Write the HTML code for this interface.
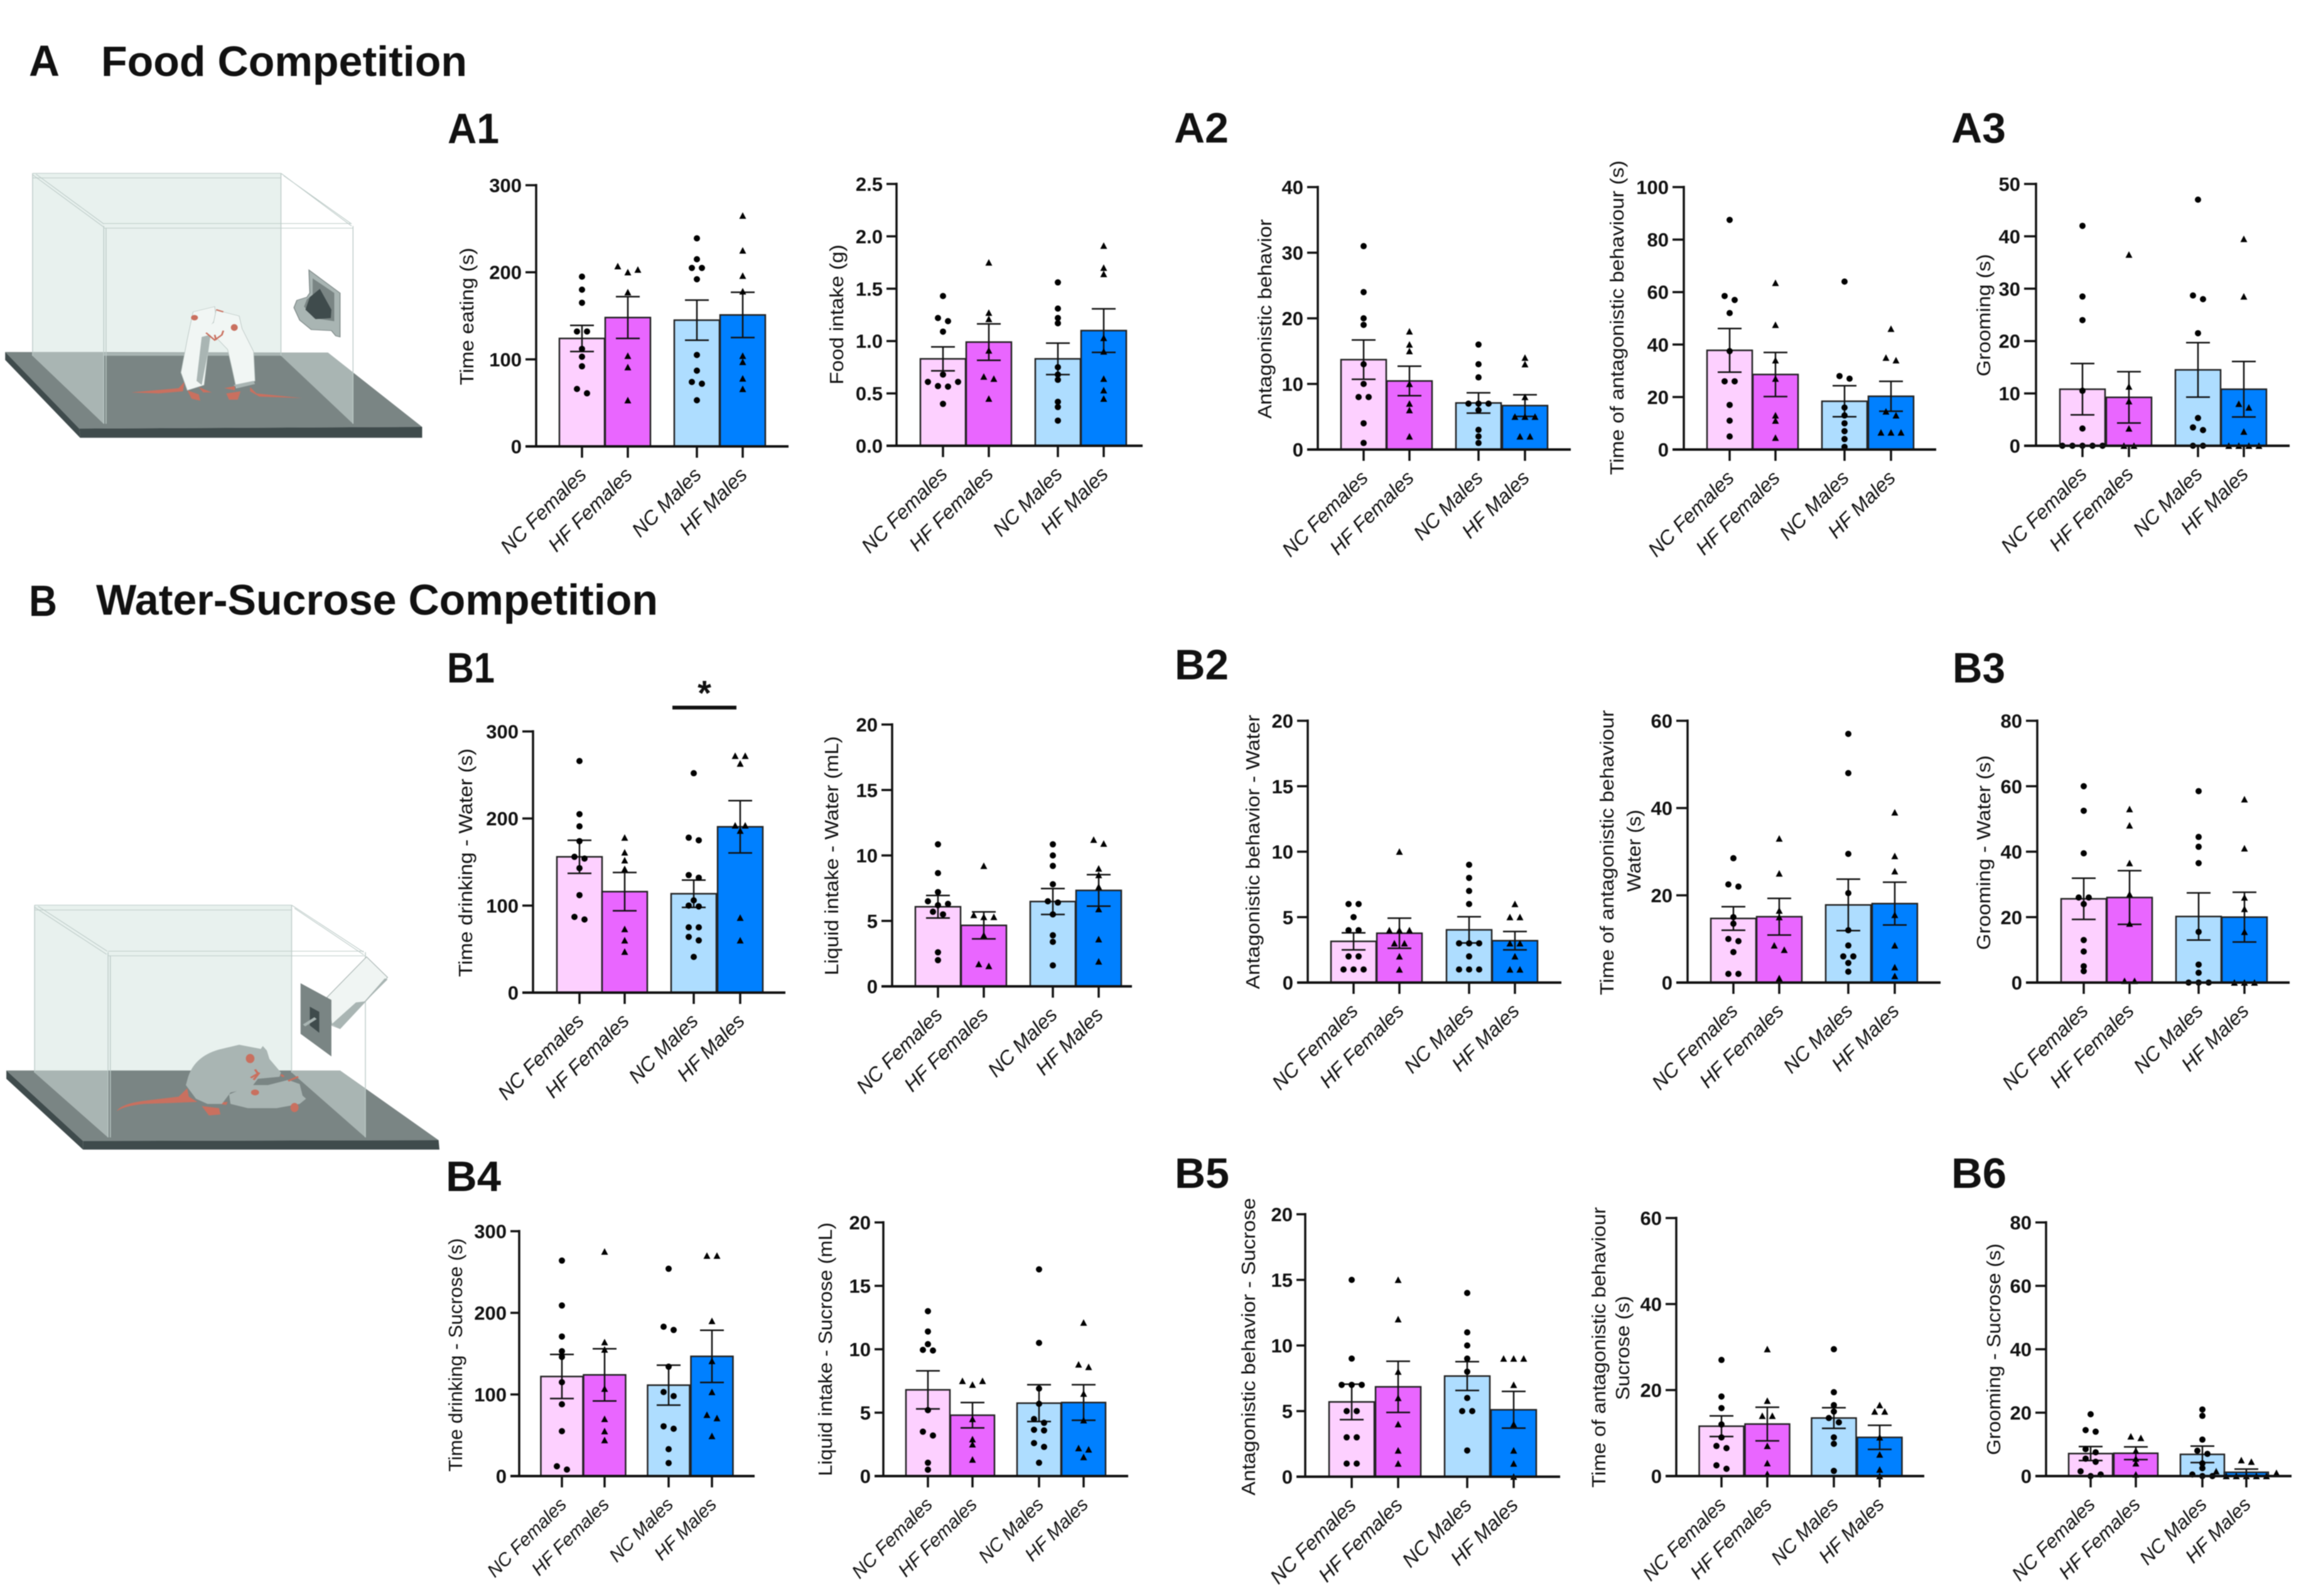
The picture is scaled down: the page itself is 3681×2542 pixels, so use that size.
<!DOCTYPE html>
<html lang="en">
<head>
<meta charset="utf-8">
<title>Food and Water-Sucrose Competition</title>
<style>
html,body{margin:0;padding:0;background:#fff;}
svg{display:block;filter:blur(0.7px);}
text{font-family:"Liberation Sans",sans-serif;fill:#111;}
.head{font-weight:bold;}
</style>
</head>
<body>
<svg id="root" xmlns="http://www.w3.org/2000/svg" width="3681" height="2542" viewBox="0 0 3681 2542">
<rect width="3681" height="2542" fill="#fff"/>

<text class="head" x="46" y="121" font-size="70" textLength="49" lengthAdjust="spacingAndGlyphs">A</text>
<text class="head" x="161" y="121" font-size="68" textLength="583" lengthAdjust="spacingAndGlyphs">Food Competition</text>
<text class="head" x="46" y="981" font-size="70" textLength="45" lengthAdjust="spacingAndGlyphs">B</text>
<text class="head" x="153" y="979" font-size="69" textLength="895" lengthAdjust="spacingAndGlyphs">Water-Sucrose Competition</text>

<text class="head" x="713" y="228" font-size="68" textLength="82" lengthAdjust="spacingAndGlyphs">A1</text>
<text class="head" x="1870" y="227" font-size="68" textLength="87" lengthAdjust="spacingAndGlyphs">A2</text>
<text class="head" x="3108" y="227" font-size="68" textLength="87" lengthAdjust="spacingAndGlyphs">A3</text>
<text class="head" x="712" y="1087" font-size="68" textLength="76" lengthAdjust="spacingAndGlyphs">B1</text>
<text class="head" x="1871" y="1082" font-size="68" textLength="86" lengthAdjust="spacingAndGlyphs">B2</text>
<text class="head" x="3110" y="1087" font-size="68" textLength="84" lengthAdjust="spacingAndGlyphs">B3</text>
<text class="head" x="710" y="1897" font-size="68" textLength="88" lengthAdjust="spacingAndGlyphs">B4</text>
<text class="head" x="1871" y="1892" font-size="68" textLength="87" lengthAdjust="spacingAndGlyphs">B5</text>
<text class="head" x="3108" y="1892" font-size="68" textLength="88" lengthAdjust="spacingAndGlyphs">B6</text>

<!-- Food chamber illustration -->
<g transform="matrix(.459 0 0 .3333 0 240)">
  <rect x="113" y="108" width="862" height="872" fill="#e8f1ee"/>
  <polygon points="18,962 1138,965 1465,1320 275,1328" fill="#7a8584"/>
  <polygon points="275,1328 1465,1320 1465,1372 278,1372" fill="#3f4b4c"/>
  <polygon points="18,962 275,1328 278,1372 18,1000" fill="#3f4b4c"/>
  <polygon points="113,965 975,965 975,980 113,980" fill="#a9b5b3"/>
  <polygon points="113,108 360,360 360,1305 113,980" fill="#e8f1ee"/>
  <polygon points="113,962 360,962 360,1305 113,980" fill="#a9b5b3"/>
  <polygon points="975,965 1138,965 1225,1060 1225,1305 975,980" fill="#a9b5b3"/>
  <g fill="none" stroke="#bccac7" stroke-width="3">
    <path d="M113,108H975M113,130H975M360,348H1220M360,370H1225"/>
    <path d="M113,108V980M975,108V980M360,360V1305M1225,360V1305M368,370V1305"/>
    <path d="M113,115L360,365M125,112L360,350M975,108L1220,360M985,120L1220,350"/>
  </g>
  <path d="M1072,570L1180,680V890L1165,885L1150,860L1080,855L1040,810L1020,750L1030,715L1065,700L1075,680Z" fill="#a9b5b3" stroke="#7a8584" stroke-width="3"/>
  <path d="M1085,610L1160,680V815L1090,800L1055,745L1065,710L1085,690Z" fill="#7a8584"/>
  <path d="M1110,660L1150,760L1148,800L1095,805L1060,760L1075,700Z" fill="#3f4b4c"/>
  <path d="M455,1155L620,1135L640,1105L635,1150L550,1160Z" fill="#c9705f"/>
  <path d="M868,1130L890,1160L1048,1182L900,1175L868,1150Z" fill="#c9705f"/>
  <path d="M650,1145L690,1165L695,1195L665,1185Z M690,1130L735,1155L705,1155Z M778,1135L815,1125L815,1145Z M785,1160L835,1150L825,1190L795,1190Z" fill="#c9705f"/>
  <path d="M670,770L745,745L750,800L735,830L730,880L722,960L708,1120L650,1145L628,1060L650,900Z" fill="#f1f6f4" stroke="#b8c4c1" stroke-width="2"/>
  <path d="M700,890L730,880L722,960L700,1120L682,1100Z" fill="#a9b5b3"/>
  <path d="M750,762L830,790L840,850L880,960L885,1100L820,1135L805,1040L790,950L755,900L735,860Z" fill="#f1f6f4" stroke="#b8c4c1" stroke-width="2"/>
  <ellipse cx="750" cy="860" rx="24" ry="40" fill="#f1f6f4"/>
  <path d="M810,1120L880,1100L885,1115L825,1135Z" fill="#a9b5b3"/>
  <ellipse cx="675" cy="798" rx="12" ry="13" fill="#c9705f"/>
  <ellipse cx="813" cy="845" rx="12" ry="16" fill="#c9705f"/>
  <path d="M715,870L745,905L770,880L775,860M750,760L775,770M745,880L750,905" fill="none" stroke="#c9705f" stroke-width="6"/>
</g>

<!-- Water-sucrose chamber illustration -->
<g transform="matrix(.459 0 0 .3333 0 1400)">
  <rect x="120" y="125" width="892" height="805" fill="#e8f1ee"/>
  <polygon points="22,915 1180,915 1522,1248 288,1252" fill="#7a8584"/>
  <polygon points="288,1252 1522,1248 1525,1293 288,1293" fill="#3f4b4c"/>
  <polygon points="22,915 288,1252 288,1293 22,955" fill="#3f4b4c"/>
  <polygon points="120,125 375,350 375,1235 120,925" fill="#e8f1ee"/>
  <polygon points="120,915 375,915 375,1235 120,925" fill="#a9b5b3"/>
  <polygon points="1012,915 1180,915 1268,1002 1268,1235 1012,925" fill="#a9b5b3"/>
  <g fill="none" stroke="#bccac7" stroke-width="3">
    <path d="M120,125H1012M120,148H1012M375,345H1262M375,367H1268"/>
    <path d="M120,125V925M1012,125V925M375,350V1235M1268,350V1235M383,367V1235"/>
    <path d="M120,135L370,360M132,130L372,345M1012,125L1262,350M1022,140L1262,362"/>
  </g>
  <polygon points="1135,565 1272,372 1345,470 1265,590 1180,715 1152,700" fill="#f0f5f3" stroke="#a9b5b3" stroke-width="3"/>
  <polygon points="1150,695 1235,590 1265,585 1335,475 1345,480 1265,590 1180,715" fill="#a9b5b3"/>
  <polygon points="1043,498 1150,578 1150,848 1043,740" fill="#7a8584"/>
  <polygon points="1075,610 1108,635 1108,735 1075,700" fill="#3f4b4c"/>
  <path d="M1055,700L1095,665" stroke="#a9b5b3" stroke-width="12"/>
  <path d="M405,1110Q420,1075 500,1060L620,1040L650,1000L655,1040L685,1065L600,1070L500,1075Q430,1085 405,1110Z" fill="#c9705f"/>
  <path d="M700,1085L760,1095L765,1125L725,1130Z M745,1070L790,1065L785,1080Z" fill="#c9705f"/>
  <path d="M650,960Q670,850 760,815L830,792L905,812L912,798L926,820L935,860L975,925L970,945L895,955L870,1000L800,1020L770,1075L720,1075L680,1050L645,985Z" fill="#a9b5b3"/>
  <path d="M795,1030L870,985L930,985L1000,960L1040,980L1050,1035L1062,1050L1040,1075L960,1095L860,1095L800,1075Z" fill="#a9b5b3"/>
  <ellipse cx="868" cy="858" rx="15" ry="22" fill="#c9705f"/>
  <ellipse cx="1022" cy="1092" rx="14" ry="22" fill="#c9705f"/>
  <circle cx="885" cy="1020" r="14" fill="#c9705f"/>
  <path d="M870,950L895,930L885,910M880,960L900,925" stroke="#c9705f" stroke-width="8" fill="none"/>
  <path d="M1000,965L1035,945M975,935L985,945" stroke="#c9705f" stroke-width="8" fill="none"/>
</g>

<rect x="1071" y="1124" width="102" height="6" fill="#111"/>
<text x="1122" y="1123" font-size="56" font-weight="bold" text-anchor="middle">*</text>

<g id="charts"></g>
</svg>

<script>
const categories = ["NC Females", "HF Females", "NC Males", "HF Males"];

const a1aTicks = [0, 100, 200, 300];
const a1aMeans = [124, 148, 145, 151];
const a1aSems = [15, 24, 23, 26];
const a1aPoints = [
  [195, 180, 165, 132, 132, 112, 103, 92, 66, 61],
  [207, 203, 200, 177, 104, 91, 53],
  [239, 215, 205, 205, 192, 105, 87, 74, 72, 53],
  [265, 225, 196, 178, 104, 97, 78, 66]
];

const a1bTicks = [0, 0.5, 1, 1.5, 2, 2.5];
const a1bMeans = [0.83, 0.99, 0.83, 1.10];
const a1bSems = [0.114, 0.174, 0.15, 0.208];
const a1bPoints = [
  [1.43, 1.22, 1.19, 1.09, 0.68, 0.61, 0.61, 0.57, 0.565, 0.40],
  [1.75, 1.27, 1.21, 0.91, 0.66, 0.64, 0.45],
  [1.56, 1.31, 1.22, 1.17, 0.75, 0.68, 0.63, 0.42, 0.37, 0.24],
  [1.91, 1.70, 1.64, 1.03, 0.90, 0.64, 0.53, 0.45]
];

const a2aTicks = [0, 10, 20, 30, 40];
const a2aMeans = [13.7, 10.45, 7.1, 6.7];
const a2aSems = [3, 2.25, 1.55, 1.65];
const a2aPoints = [
  [31, 24, 20, 19, 13, 10, 8, 8, 4, 1],
  [18, 16, 15, 10, 7, 6, 2],
  [16, 13, 11, 7, 7, 7, 6, 3, 2, 1],
  [14, 13, 8, 5, 5, 5, 2, 2]
];

const a2bTicks = [0, 20, 40, 60, 80, 100];
const a2bMeans = [37.8, 28.6, 18.4, 20.3];
const a2bSems = [8.3, 8.4, 5.9, 5.7];
const a2bPoints = [
  [87.5, 58.5, 57, 52, 37.5, 26, 26, 17, 11, 5],
  [63.5, 47.5, 34, 27, 13, 11, 4.5],
  [64, 28, 27, 16, 13, 10, 7, 4, 1],
  [46, 35, 34, 14.5, 13, 6.5, 6.5, 6.5]
];

const a3Ticks = [0, 10, 20, 30, 40, 50];
const a3Means = [10.8, 9.25, 14.5, 10.8];
const a3Sems = [4.9, 4.9, 5.2, 5.3];
const a3Points = [
  [42, 28.5, 24, 10.5, 3.3, 0, 0, 0, 0, 0],
  [36.5, 11.3, 8.5, 3.3, 0, 0],
  [47, 28.7, 28, 21.5, 5.3, 3.5, 3, 0, 0],
  [39.5, 28.5, 8, 7.3, 2.7, 0, 0, 0, 0]
];

const b1aTicks = [0, 100, 200, 300];
const b1aMeans = [156, 116, 113.6, 190.5];
const b1aSems = [19, 22, 15.7, 30];
const b1aPoints = [
  [266, 205, 191, 174, 156, 154, 143, 112, 87, 84],
  [178, 161, 152, 142, 73, 60, 47],
  [252, 178, 175, 135, 132, 106, 100, 99, 75, 75, 64, 60, 41],
  [272, 272, 263, 192, 192, 186, 86, 60]
];

const b1bTicks = [0, 5, 10, 15, 20];
const b1bMeans = [6.08, 4.66, 6.48, 7.33];
const b1bSems = [0.86, 1.03, 0.99, 1.2];
const b1bPoints = [
  [10.85, 8.65, 7.2, 6.5, 6.3, 6.2, 5.7, 5.5, 2.6, 2.0],
  [9.2, 5.45, 5.3, 5.3, 3.9, 1.7, 1.55],
  [10.85, 10, 9.2, 7.8, 6.5, 6.4, 5.5, 3.9, 3.4, 1.6],
  [11.2, 10.9, 9, 8.5, 7.6, 5.9, 3.6, 1.9]
];

const b2aTicks = [0, 5, 10, 15, 20];
const b2aMeans = [3.15, 3.77, 4.03, 3.2];
const b2aSems = [0.65, 1.15, 1, 0.7];
const b2aPoints = [
  [6, 6, 5, 4, 4, 2, 2, 1, 1, 1],
  [10, 4, 4, 4, 3, 3, 2, 1],
  [9, 8, 7, 6, 3, 3, 3, 2, 1, 1, 1],
  [6, 5, 5, 3, 3, 2, 1, 1]
];

const b2bTicks = [0, 20, 40, 60];
const b2bMeans = [14.7, 15.1, 17.8, 18.1];
const b2bSems = [2.7, 4.2, 5.9, 4.9];
const b2bPoints = [
  [28.5, 22.5, 22, 15, 13.5, 10, 9.5, 7, 2, 2],
  [33, 25, 16.5, 15, 8.5, 7.5, 1],
  [57, 48, 29.5, 20.5, 12, 8.5, 6, 6, 4.5, 2.5],
  [39, 29, 25.5, 15.5, 8.5, 3.5, 1.5]
];

const b3Ticks = [0, 20, 40, 60, 80];
const b3Means = [25.6, 26, 20.2, 20];
const b3Sems = [6.3, 8.2, 7.2, 7.6];
const b3Points = [
  [60, 52.5, 39.5, 26, 26, 24, 13, 9.5, 5, 3.5],
  [53, 48, 36.5, 27, 18, 0.5, 0.5],
  [58.5, 44.5, 41.5, 36.5, 15.5, 5.5, 3, 0, 0, 0],
  [56, 41, 26, 22.5, 15.5, 0, 0, 0]
];

const b4aTicks = [0, 100, 200, 300];
const b4aMeans = [122, 124, 111.4, 146.7];
const b4aSems = [27, 32, 24.5, 32];
const b4aPoints = [
  [264, 209, 171, 153, 146, 115, 88, 55, 12, 8],
  [275, 164, 155, 107, 70, 55, 44],
  [254, 183, 179, 134, 103, 98, 61, 58, 33, 16],
  [270, 270, 190, 141, 103, 75, 71, 49]
];

const b4bTicks = [0, 5, 10, 15, 20];
const b4bMeans = [6.8, 4.8, 5.75, 5.8];
const b4bSems = [1.5, 1, 1.45, 1.4];
const b4bPoints = [
  [13, 11.4, 10.4, 9.95, 9.9, 5.2, 3.5, 3.2, 1.05, 0.5],
  [7.5, 7.5, 7.2, 4.5, 2.9, 2.5, 1.3],
  [16.3, 10.5, 6.9, 5.7, 4.5, 4.2, 3.65, 3.6, 2.6, 2.3, 1.05],
  [12.1, 8.8, 8.6, 6.5, 4.4, 2.2, 2.1, 1.5]
];

const b5aTicks = [0, 5, 10, 15, 20];
const b5aMeans = [5.7, 6.85, 7.67, 5.1];
const b5aSems = [1.35, 1.95, 1.1, 1.4];
const b5aPoints = [
  [15, 9, 7, 7, 7, 5, 5, 3, 3, 1, 1],
  [15, 12, 8, 6, 4, 2, 1],
  [14, 11, 10, 9, 8, 6, 5, 5, 2],
  [9, 9, 9, 7, 4, 2, 1, 0]
];

const b5bTicks = [0, 20, 40, 60];
const b5bMeans = [11.6, 12.1, 13.5, 9];
const b5bSems = [2.4, 3.9, 2.4, 2.8];
const b5bPoints = [
  [27, 18.5, 15.8, 12, 9, 7, 6.5, 2.5, 1.7],
  [29.5, 17.5, 14, 14, 7, 3, 0.5],
  [29.5, 19.5, 16.5, 15, 13.5, 12.5, 9, 7.5, 1.2],
  [16.5, 15, 15, 9, 5, 1.5, 0]
];

const b6Ticks = [0, 20, 40, 60, 80];
const b6Means = [7.1, 7.2, 6.85, 1.2];
const b6Sems = [2.2, 2, 2.6, 1];
const b6Points = [
  [19.5, 14.5, 14, 8.5, 7.5, 5.5, 4.5, 1.5, 0.5, 0],
  [12.5, 12, 8, 5.5, 4, 0.5],
  [21, 19, 11.5, 8, 7, 4, 2.5, 0.5, 0, 0],
  [5, 4.5, 1.5, 1, 0, 0, 0, 0, 0]
];

const barColors = ["#fdd0ff", "#e966ff", "#aeddff", "#0080ff"];

const charts = [
  {id:"a1a", means:a1aMeans, sems:a1aSems, pts:a1aPoints, ticks:a1aTicks, frame:{ax:854, y0:711, top:295, l:837, r:1256, cx:[927,1000,1110,1183], bw:72},
   titles:[{t:"Time eating (s)", x:754, cy:504, len:219}]},
  {id:"a1b", decimals:1, means:a1bMeans, sems:a1bSems, pts:a1bPoints, ticks:a1bTicks, frame:{ax:1428, y0:710, top:293, l:1412, r:1820, cx:[1502,1575,1685,1758], bw:72},
   titles:[{t:"Food intake (g)", x:1343, cy:501, len:223}]},
  {id:"a2a", means:a2aMeans, sems:a2aSems, pts:a2aPoints, ticks:a2aTicks, frame:{ax:2099, y0:716, top:298, l:2082, r:2502, cx:[2172,2245,2355,2429], bw:72},
   titles:[{t:"Antagonistic behavior", x:2025, cy:508, len:318}]},
  {id:"a2b", means:a2bMeans, sems:a2bSems, pts:a2bPoints, ticks:a2bTicks, frame:{ax:2682, y0:716, top:298, l:2664, r:3084, cx:[2755,2828,2938,3012], bw:72},
   titles:[{t:"Time of antagonistic behaviour (s)", x:2586, cy:506, len:501}]},
  {id:"a3", means:a3Means, sems:a3Sems, pts:a3Points, ticks:a3Ticks, frame:{ax:3243, y0:710, top:293, l:3224, r:3647, cx:[3317,3391,3501,3574], bw:72},
   titles:[{t:"Grooming (s)", x:3170, cy:502, len:195}]},
  {id:"b1a", means:b1aMeans, sems:b1aSems, pts:b1aPoints, ticks:b1aTicks, frame:{ax:849, y0:1581, top:1165, l:832, r:1251, cx:[923,995,1105,1179], bw:72},
   titles:[{t:"Time drinking - Water (s)", x:752, cy:1374, len:364}]},
  {id:"b1b", means:b1bMeans, sems:b1bSems, pts:b1bPoints, ticks:b1bTicks, frame:{ax:1421, y0:1571, top:1154, l:1404, r:1803, cx:[1494,1567,1677,1750], bw:72},
   titles:[{t:"Liquid intake - Water (mL)", x:1335, cy:1363, len:381}]},
  {id:"b2a", means:b2aMeans, sems:b2aSems, pts:b2aPoints, ticks:b2aTicks, frame:{ax:2083, y0:1565, top:1148, l:2066, r:2487, cx:[2156,2229,2340,2413], bw:72},
   titles:[{t:"Antagonistic behavior - Water", x:2006, cy:1357, len:437}]},
  {id:"b2b", means:b2bMeans, sems:b2bSems, pts:b2bPoints, ticks:b2bTicks, frame:{ax:2688, y0:1565, top:1148, l:2670, r:3091, cx:[2761,2834,2944,3018], bw:72},
   titles:[{t:"Time of antagonistic behaviour", x:2570, cy:1358, len:454},{t:"Water (s)", x:2613, cy:1355, len:131}]},
  {id:"b3", means:b3Means, sems:b3Sems, pts:b3Points, ticks:b3Ticks, frame:{ax:3245, y0:1565, top:1148, l:3227, r:3647, cx:[3319,3392,3502,3575], bw:72},
   titles:[{t:"Grooming - Water (s)", x:3170, cy:1358, len:310}]},
  {id:"b4a", labelSize:29.5, means:b4aMeans, sems:b4aSems, pts:b4aPoints, ticks:b4aTicks, frame:{ax:827, y0:2351, top:1961, l:813, r:1202, cx:[895,963,1065,1134], bw:67},
   titles:[{t:"Time drinking - Sucrose (s)", x:736, cy:2158, len:372}]},
  {id:"b4b", labelSize:30, means:b4bMeans, sems:b4bSems, pts:b4bPoints, ticks:b4bTicks, frame:{ax:1407, y0:2351, top:1947, l:1393, r:1797, cx:[1478,1549,1655,1726], bw:70},
   titles:[{t:"Liquid intake - Sucrose (mL)", x:1325, cy:2149, len:404}]},
  {id:"b5a", means:b5aMeans, sems:b5aSems, pts:b5aPoints, ticks:b5aTicks, frame:{ax:2079, y0:2352, top:1934, l:2065, r:2485, cx:[2153,2227,2337,2411], bw:72},
   titles:[{t:"Antagonistic behavior - Sucrose", x:1999, cy:2145, len:474}]},
  {id:"b5b", labelSize:31, means:b5bMeans, sems:b5bSems, pts:b5bPoints, ticks:b5bTicks, frame:{ax:2670, y0:2351, top:1940, l:2653, r:3065, cx:[2742,2815,2921,2994], bw:71},
   titles:[{t:"Time of antagonistic behaviour", x:2557, cy:2146, len:447},{t:"Sucrose (s)", x:2595, cy:2147, len:166}]},
  {id:"b6", labelSize:31, means:b6Means, sems:b6Sems, pts:b6Points, ticks:b6Ticks, frame:{ax:3259, y0:2351, top:1947, l:3242, r:3650, cx:[3330,3402,3508,3578], bw:70},
   titles:[{t:"Grooming - Sucrose (s)", x:3186, cy:2149, len:337}]}
];

const NS = "http://www.w3.org/2000/svg";
const host = document.getElementById("charts");
const DOT_STEP = 16;
const CLUSTER_GAP = 7;

function mk(tag, parent) {
  const el = document.createElementNS(NS, tag);
  parent.appendChild(el);
  return el;
}

function line(parent, x1, y1, x2, y2, w, color) {
  const el = mk("line", parent);
  el.setAttribute("x1", x1);
  el.setAttribute("y1", y1);
  el.setAttribute("x2", x2);
  el.setAttribute("y2", y2);
  el.setAttribute("stroke", color || "#111");
  el.setAttribute("stroke-width", w);
  return el;
}

// Beeswarm-like placement: neighbours close in pixel-y are spread symmetrically.
function swarm(values, yScale) {
  const sorted = values.slice().sort((a, b) => b - a);
  const out = [];
  let cluster = [];
  const flush = () => {
    const n = cluster.length;
    const offsets = [];
    for (let i = 0; i < n; i++) offsets.push((i - (n - 1) / 2) * DOT_STEP);
    offsets.sort((a, b) => Math.abs(b) - Math.abs(a));
    cluster.forEach((v, i) => out.push({v: v, dx: offsets[i]}));
    cluster = [];
  };
  sorted.forEach(v => {
    if (cluster.length && yScale(v) - yScale(cluster[cluster.length - 1]) >= CLUSTER_GAP) flush();
    cluster.push(v);
  });
  flush();
  return out;
}

function drawChart(c) {
  const f = c.frame;
  const yMax = c.ticks[c.ticks.length - 1];
  const yScale = v => f.y0 - (v / yMax) * (f.y0 - f.top);
  const g = mk("g", host);
  
  

  c.means.forEach((m, i) => {
    const bar = mk("rect", g);
    
    
    bar.setAttribute("x", f.cx[i] - f.bw / 2);
    bar.setAttribute("y", yScale(m));
    bar.setAttribute("width", f.bw);
    bar.setAttribute("height", f.y0 - yScale(m));
    bar.setAttribute("fill", barColors[i]);
    bar.setAttribute("stroke", "#222");
    bar.setAttribute("stroke-width", "2.5");
  });

  c.means.forEach((m, i) => {
    const eb = mk("g", g);
    
    
    const hi = yScale(m + c.sems[i]);
    const lo = yScale(m - c.sems[i]);
    line(eb, f.cx[i], hi, f.cx[i], lo, 2.5);
    line(eb, f.cx[i] - 19, hi, f.cx[i] + 19, hi, 2.5);
    line(eb, f.cx[i] - 19, lo, f.cx[i] + 19, lo, 2.5);
  });

  c.pts.forEach((vals, i) => {
    const triangle = i % 2 === 1;
    swarm(vals, yScale).forEach(p => {
      const x = f.cx[i] + p.dx;
      const y = yScale(p.v);
      let mark;
      if (triangle) {
        mark = mk("polygon", g);
        mark.setAttribute("points", (x - 5.5) + "," + (y + 5) + " " + (x + 5.5) + "," + (y + 5) + " " + x + "," + (y - 5.5));
      } else {
        mark = mk("circle", g);
        mark.setAttribute("cx", x);
        mark.setAttribute("cy", y);
        mark.setAttribute("r", 5);
      }
      mark.setAttribute("fill", "#000");
      
      
    });
  });

  const yAxis = line(g, f.ax, f.top - 2, f.ax, f.y0 + 2, 3.5);
  
  
  const xAxis = line(g, f.l, f.y0, f.r, f.y0, 4);
  
  

  c.ticks.forEach(t => {
    const y = yScale(t);
    const mark = line(g, f.l, y, f.ax, y, 3.5);
    
    
    const lab = mk("text", g);
    
    
    lab.setAttribute("x", f.l - 6);
    lab.setAttribute("y", y + 11);
    lab.setAttribute("text-anchor", "end");
    lab.setAttribute("font-size", "31");
    lab.setAttribute("font-weight", "bold");
    lab.textContent = c.decimals ? t.toFixed(c.decimals) : String(t);
  });

  categories.forEach((name, i) => {
    const tick = line(g, f.cx[i], f.y0, f.cx[i], f.y0 + 18, 3.5);
    
    
    const lab = mk("text", g);
    
    
    lab.setAttribute("transform", "translate(" + (f.cx[i] + 9) + "," + (f.y0 + 47) + ") rotate(-45)");
    lab.setAttribute("text-anchor", "end");
    lab.setAttribute("font-size", c.labelSize || 32);
    lab.setAttribute("font-style", "italic");
    lab.textContent = name;
  });

  c.titles.forEach(t => {
    const title = mk("text", g);
    
    
    title.setAttribute("transform", "translate(" + t.x + "," + t.cy + ") rotate(-90)");
    title.setAttribute("text-anchor", "middle");
    title.setAttribute("font-size", "31");
    title.setAttribute("textLength", t.len);
    title.setAttribute("lengthAdjust", "spacingAndGlyphs");
    title.textContent = t.t;
  });
}

charts.forEach(drawChart);
</script>
</body>
</html>
